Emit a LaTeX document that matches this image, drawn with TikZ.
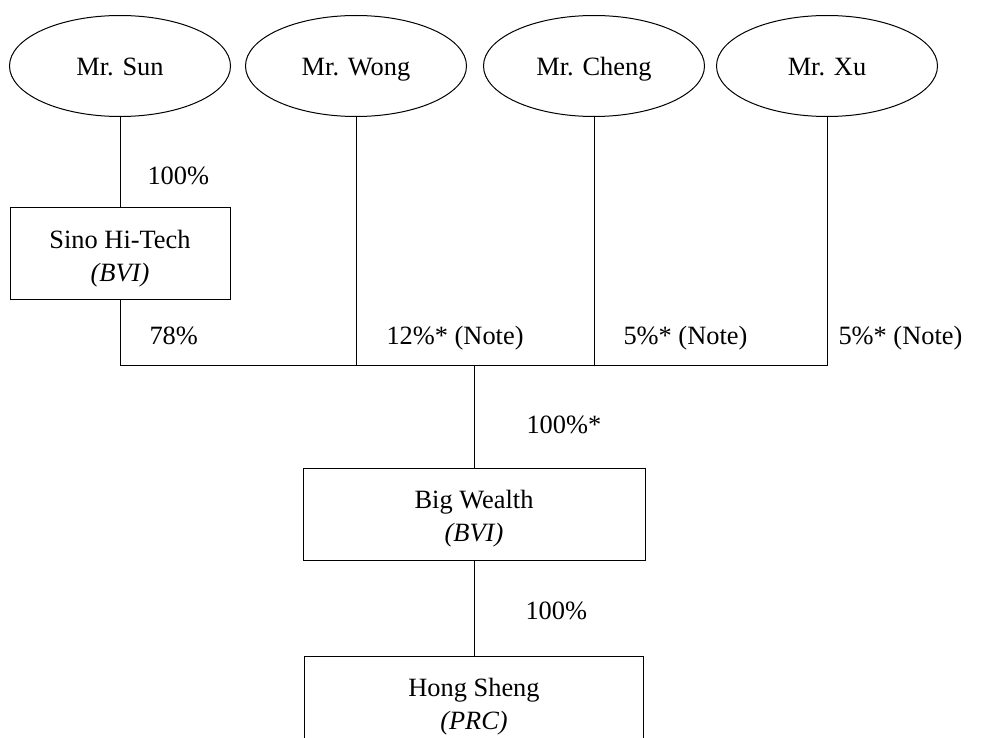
\documentclass[tikz,border=0pt]{standalone}
\usepackage{fontspec}
\setmainfont{Liberation Serif}
\usetikzlibrary{shapes.geometric}
\newcommand{\toprow}{\rule{0pt}{27pt}}
\tikzset{
  owner/.style={draw, ellipse, minimum width=221pt, minimum height=101pt, inner sep=0pt,
    text height=24.5pt, text depth=6pt},
  company/.style={draw, rectangle, minimum height=92pt, inner sep=0pt, align=center},
  share/.style={anchor=west, inner sep=0pt, text height=24.5pt, text depth=6pt},
}
\begin{document}
\begin{tikzpicture}[x=1pt, y=-1pt, line width=1pt, font=\fontsize{26.4}{33}\selectfont]
        \useasboundingbox (0,0) rectangle (986,738);
        \clip (0,0) rectangle (986,738);
        % owners
        \node[owner] (sun) at (120,66) {Mr. Sun};
        \node[owner] (wong) at (356,66) {Mr. Wong};
        \node[owner] (cheng) at (594,66) {Mr. Cheng};
        \node[owner] (xu) at (827,66) {Mr. Xu};
        % companies
        \node[company, minimum width=220pt] (sino) at (120,254) {\toprow Sino Hi-Tech\\\textit{(BVI)}};
        \node[company, minimum width=342pt] (bigwealth) at (474,514) {\toprow Big Wealth\\\textit{(BVI)}};
        \node[company, minimum width=339pt] (hongsheng) at (474,702) {\toprow Hong Sheng\\\textit{(PRC)}};
        \coordinate (bar) at (474,365);
        % lines
        \draw (sun.south) -- (sino.north);
        \draw (sino.south) |- (xu.south |- bar) -- (xu.south);
        \draw (wong.south) -- (wong.south |- bar);
        \draw (cheng.south) -- (cheng.south |- bar);
        \draw (bar) -- (bigwealth.north);
        \draw (bigwealth.south) -- (hongsheng.north);
        % shares
        \node[share] (sunpct) at (147,175) {100\%};
        \node[share] (sinopct) at (149,335) {78\%};
        \node[share] (wongpct) at (386,335) {12\%* (Note)};
        \node[share] (chengpct) at (623,335) {5\%* (Note)};
        \node[share] (xupct) at (838,335) {5\%* (Note)};
        \node[share] (bwpct) at (526,424) {100\%*};
        \node[share] (hspct) at (525,610) {100\%};
\end{tikzpicture}
\end{document}
